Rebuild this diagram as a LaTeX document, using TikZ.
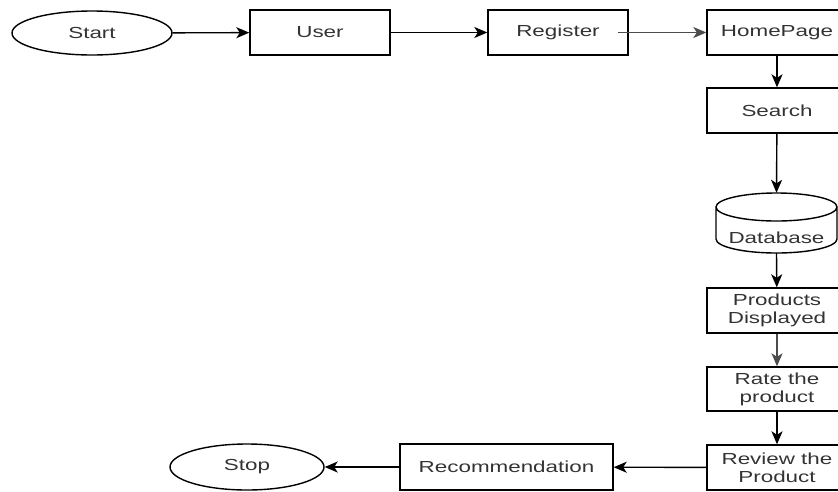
\documentclass[tikz,border=0pt]{standalone}
\usepackage{fontspec}
\setmainfont[FakeStretch=1.4]{Liberation Sans}
\usetikzlibrary{arrows.meta,shapes.geometric}
\begin{document}
\begin{tikzpicture}[x=1pt,y=-1pt,
  every node/.style={font=\fontsize{16}{18}\selectfont, text=black!80, align=center},
  stepbox/.style={draw, line width=1.4pt, minimum width=140pt, minimum height=45pt, inner sep=0pt},
  terminal/.style={draw, ellipse, line width=1.4pt, inner sep=0pt},
  flow/.style={line width=1.4pt, -{Stealth[length=13pt,width=11pt,inset=3.5pt]}},
  softflow/.style={flow, draw=black!70}
]
\useasboundingbox (0,0) rectangle (838,491);

% top row
\node[terminal, minimum width=160pt, minimum height=44pt] (start) at (92,33) {Start};
\node[stepbox] (user) at (320,32.5) {User};
\node[stepbox] (reg) at (558,32.5) {Register};
\node[stepbox] (home) at (777,32.5) {HomePage};

% right column
\node[stepbox] (search) at (777,110.5) {Search};

% database cylinder: text node plus outline
\node[minimum width=121pt, minimum height=60pt, inner sep=0pt] (db) at (776.5,223) {};
\draw[line width=1.4pt]
  (716,207) -- (716,239) arc[start angle=180, end angle=360, x radius=60.5, y radius=-14] -- (837,207)
  (776.5,207) ellipse[x radius=60.5, y radius=14];
\node at (776.5,238) {Database};

\node[stepbox] (prod) at (777,310.5) {Products\\Displayed};
\node[stepbox, minimum height=44pt] (rate) at (777,389) {Rate the\\product};
\node[stepbox] (review) at (777,467.5) {Review the\\Product};

% bottom row
\node[stepbox, minimum width=213pt, minimum height=46pt] (rec) at (506.5,467) {Recommendation};
\node[terminal, minimum width=154pt, minimum height=46pt] (stop) at (247,467) {Stop};

% connectors
\draw[flow] (start) -- (user);
\draw[flow] (user) -- (reg);
\draw[softflow] ([xshift=-11pt]reg.east) -- (home.west);
\draw[flow] (home) -- (search);
\draw[flow] (search) -- (db.north);
\draw[flow] (db.south) -- (prod);
\draw[softflow] (prod) -- (rate);
\draw[flow] (rate) -- (review);
\draw[flow] (review) -- (rec);
\draw[flow] (rec) -- (stop);
\end{tikzpicture}
\end{document}
